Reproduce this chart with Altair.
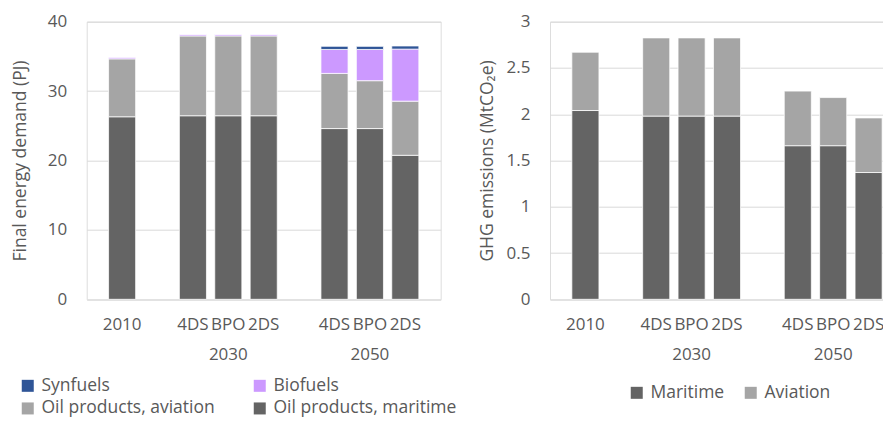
import altair as alt
import pandas as pd

# ---- data ----
bar_ids = ["2010", "2030 4DS", "2030 BPO", "2030 2DS", "2050 4DS", "2050 BPO", "2050 2DS"]
axis_slots = ["2010", "gap1", "2030 4DS", "2030 BPO", "2030 2DS", "gap2", "2050 4DS", "2050 BPO", "2050 2DS"]

energy_series = ["Synfuels", "Biofuels", "Oil products, aviation", "Oil products, maritime"]
energy_colors = ["#2f5597", "#cc99ff", "#a5a5a5", "#646464"]
maritime_pj = [26.3, 26.45, 26.45, 26.45, 24.6, 24.6, 20.75]
aviation_pj = [8.35, 11.5, 11.5, 11.5, 7.95, 6.9, 7.8]
biofuels_pj = [0.25, 0.25, 0.25, 0.25, 3.45, 4.5, 7.5]
synfuels_pj = [0.0, 0.0, 0.0, 0.0, 0.45, 0.45, 0.45]

ghg_series = ["Maritime", "Aviation"]
ghg_colors = ["#646464", "#a5a5a5"]
maritime_mt = [2.04, 1.98, 1.98, 1.98, 1.66, 1.66, 1.37]
aviation_mt = [0.63, 0.845, 0.845, 0.845, 0.59, 0.52, 0.59]

energy_ticks = [0, 10, 20, 30, 40]
ghg_ticks = [0, 0.5, 1, 1.5, 2, 2.5, 3]

# ---- tables ----
energy_rows = []
for i, b in enumerate(bar_ids):
    for order, (s, vals) in enumerate([
        ("Oil products, maritime", maritime_pj),
        ("Oil products, aviation", aviation_pj),
        ("Biofuels", biofuels_pj),
        ("Synfuels", synfuels_pj),
    ]):
        energy_rows.append({"cat": b, "series": s, "value": vals[i], "order": order})
energy_df = pd.DataFrame(energy_rows)

ghg_rows = []
for i, b in enumerate(bar_ids):
    for order, (s, vals) in enumerate([("Maritime", maritime_mt), ("Aviation", aviation_mt)]):
        ghg_rows.append({"cat": b, "series": s, "value": vals[i], "order": order})
ghg_df = pd.DataFrame(ghg_rows)

FONT = "Open Sans"
TXT = "#595959"
GRID = "#d9d9d9"

label_expr = (
    "indexof(datum.value, 'gap') == 0 ? '' : "
    "(datum.value == '2010' ? '2010' : "
    "(indexof(datum.value, 'BPO') > 0 ? [split(datum.value, ' ')[1], split(datum.value, ' ')[0]] "
    ": split(datum.value, ' ')[1]))"
)


def x_enc():
    return alt.X(
        "cat:N",
        scale=alt.Scale(domain=axis_slots, paddingInner=0.235, paddingOuter=0.6175),
        axis=alt.Axis(
            title=None, labelExpr=label_expr, labelAngle=0, ticks=False, domain=False,
            grid=False, labelPadding=17.5, labelFontSize=17, labelLineHeight=30,
            labelOverlap=False, labelColor=TXT, labelFont=FONT, labelBound=False,
        ),
    )


def y_axis(title, values, title_pad, fmt=None):
    kw = {}
    if fmt:
        kw["format"] = fmt
    return alt.Axis(
        title=title, values=values, grid=True, gridColor=GRID, gridWidth=1,
        domain=False, ticks=False, labelPadding=20, labelFontSize=17, labelColor=TXT,
        labelFont=FONT, titleFont=FONT, titleFontSize=17.5, titleFontWeight="normal",
        titleColor=TXT, titlePadding=title_pad, **kw,
    )


def legend(x, y, colpad, rowpad):
    return alt.Legend(
        orient="none", legendX=x, legendY=y, columns=2, direction="horizontal",
        columnPadding=colpad, rowPadding=rowpad, symbolType="square", symbolSize=144,
        symbolStrokeWidth=0, labelFontSize=17.5, labelFont=FONT, labelColor=TXT,
        labelLimit=400, labelOffset=5, title=None,
    )


left = alt.Chart(energy_df).mark_bar(stroke="white", strokeWidth=0.75).encode(
    x=x_enc(),
    y=alt.Y("value:Q", stack="zero", scale=alt.Scale(domain=[0, 40]),
            axis=y_axis("Final energy demand (PJ)", energy_ticks, 18)),
    color=alt.Color("series:N", scale=alt.Scale(domain=energy_series, range=energy_colors),
                    legend=legend(-67.7, 355, 36, 4)),
    order=alt.Order("order:Q"),
).properties(width=354, height=277.6)

right = alt.Chart(ghg_df).mark_bar(stroke="white", strokeWidth=0.75).encode(
    x=x_enc(),
    y=alt.Y("value:Q", stack="zero", scale=alt.Scale(domain=[0, 3]),
            axis=y_axis("GHG emissions (MtCO₂e)", ghg_ticks, 10, "~g")),
    color=alt.Color("series:N", scale=alt.Scale(domain=ghg_series, range=ghg_colors),
                    legend=legend(78, 362, 17, 0)),
    order=alt.Order("order:Q"),
).properties(width=354, height=277.6)

chart = alt.hconcat(left, right, spacing=109.3, bounds="flush").resolve_scale(
    color="independent", x="independent", y="independent"
).properties(
    autosize=alt.AutoSizeParams(type="none"),
    padding={"left": 78.7, "top": 13.7, "right": 796.3, "bottom": 389.3},
).configure_view(stroke=None).configure(font=FONT)

chart.save("out.html", embed_options={"renderer": "svg", "actions": False})
